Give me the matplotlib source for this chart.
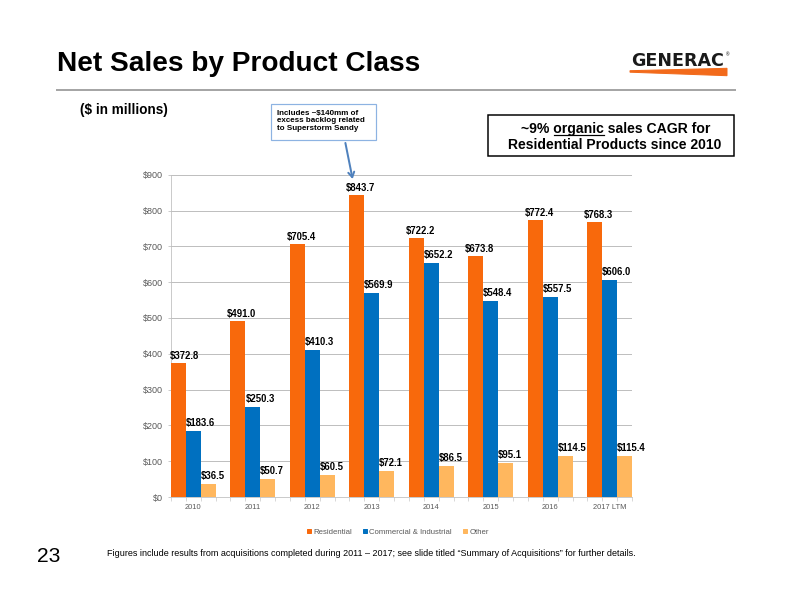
import matplotlib
matplotlib.use("Agg")
import matplotlib.pyplot as plt
from matplotlib import font_manager
from matplotlib.patches import Rectangle, Polygon, Patch, FancyArrowPatch
from matplotlib.lines import Line2D

plt.rcParams['font.family'] = ['Liberation Sans', 'DejaVu Sans']

# data ($ in millions)
years = ['2010', '2011', '2012', '2013', '2014', '2015', '2016', '2017 LTM']
residential = [372.8, 491.0, 705.4, 843.7, 722.2, 673.8, 772.4, 768.3]
commercial = [183.6, 250.3, 410.3, 569.9, 652.2, 548.4, 557.5, 606.0]
other = [36.5, 50.7, 60.5, 72.1, 86.5, 95.1, 114.5, 115.4]
y_ticks = [0, 100, 200, 300, 400, 500, 600, 700, 800, 900]

ORANGE = '#F8690C'
BLUE = '#0070C0'
LIGHT = '#FFB75E'
GRAY_TXT = '#595959'

W, H = 792, 612

# narrow font for the footnote if it is there
names = {f.name for f in font_manager.fontManager.ttflist}
NARROW = 'Liberation Sans Narrow' if 'Liberation Sans Narrow' in names else None


def fx(x):
    return x / W


def fy(y):
    return 1 - y / H


fig = plt.figure(figsize=(W / 72, H / 72), dpi=72)

# chart area
ax = fig.add_axes([fx(171), fy(497), 461 / W, 322.3 / H])
n = len(years)
res_x = [4 * i + 0.5 for i in range(n)]
com_x = [4 * i + 1.5 for i in range(n)]
oth_x = [4 * i + 2.5 for i in range(n)]

ax.bar(res_x, residential, width=1.0, color=ORANGE, zorder=3)
ax.bar(com_x, commercial, width=1.0, color=BLUE, zorder=3)
ax.bar(oth_x, other, width=1.0, color=LIGHT, zorder=3)

ax.set_xlim(0, 31)
ax.set_ylim(0, 900)
ax.set_yticks(y_ticks)
ax.set_yticklabels(['${}'.format(v) for v in y_ticks])
ax.set_xticks(com_x)
ax.set_xticklabels(years)
ax.set_xticks(range(0, 32), minor=True)
ax.tick_params(axis='x', which='major', length=0, pad=7, labelsize=7.5, labelcolor=GRAY_TXT)
ax.tick_params(axis='x', which='minor', length=4, color='#BFBFBF', direction='out')
ax.tick_params(axis='y', length=3, color='#BFBFBF', pad=5, labelsize=9, labelcolor=GRAY_TXT)
ax.grid(axis='y', color='#BFBFBF', linewidth=1, zorder=0)
for side in ['top', 'right']:
    ax.spines[side].set_visible(False)
for side in ['left', 'bottom']:
    ax.spines[side].set_color('#BFBFBF')

# data labels
lab_kw = dict(fontsize=9.5, fontweight='bold', color='black', textcoords='offset points',
              zorder=4, annotation_clip=False)
for i, v in enumerate(residential):
    if i == 0:
        ax.annotate('${:.1f}'.format(v), (0, v), xytext=(-1, 2), ha='left', va='bottom', **lab_kw)
    else:
        ax.annotate('${:.1f}'.format(v), (res_x[i], v), xytext=(4, 2), ha='center', va='bottom', **lab_kw)
for i, v in enumerate(commercial):
    ax.annotate('${:.1f}'.format(v), (com_x[i] - 0.5, v), xytext=(0, 3), ha='left', va='bottom', **lab_kw)
for i, v in enumerate(other):
    ax.annotate('${:.1f}'.format(v), (oth_x[i] - 0.5, v), xytext=(0, 3), ha='left', va='bottom', **lab_kw)

# legend
handles = [Patch(color=ORANGE, label='Residential'),
           Patch(color=BLUE, label='Commercial & Industrial'),
           Patch(color=LIGHT, label='Other')]
leg = fig.legend(handles=handles, loc='center', bbox_to_anchor=(fx(398), fy(532)), ncol=3,
                 frameon=False, fontsize=7.8, handlelength=0.5, handleheight=0.5,
                 handletextpad=0.3, columnspacing=1.4)
for t in leg.get_texts():
    t.set_color(GRAY_TXT)

# slide title and rule
fig.text(fx(57), fy(64), 'Net Sales by Product Class', fontsize=28, fontweight='bold',
         va='center', ha='left')
fig.add_artist(Line2D([fx(57), fx(735)], [fy(90), fy(90)], color='#A6A6A6', linewidth=2))

# logo
fig.text(fx(677.5), fy(61.5), 'GENERAC', fontsize=17.5, fontweight='bold', family='DejaVu Sans',
         ha='center', va='center', color='#1A1A1A')
fig.text(fx(726), fy(55), '®', fontsize=4.5, ha='left', va='center')
fig.add_artist(Polygon([(fx(630), fy(70.7)), (fx(727), fy(68.3)), (fx(727), fy(75.7)), (fx(630), fy(72.2))],
                       closed=True, color='#F26A1B', transform=fig.transFigure))

fig.text(fx(80), fy(110), '($ in millions)', fontsize=13.5, fontweight='bold', va='center')

# callout box
fig.add_artist(Rectangle((fx(271), fy(139.5)), 105 / W, 35 / H, transform=fig.transFigure,
                         facecolor='white', edgecolor='#8DB3E2', linewidth=1.2))
fig.text(fx(277), fy(121), 'Includes ~$140mm of\nexcess backlog related\nto Superstorm Sandy',
         fontsize=8, fontweight='bold', va='center', ha='left', linespacing=1.12)
fig.add_artist(FancyArrowPatch((fx(345), fy(141)), (fx(353), fy(181)),
                               transform=fig.transFigure, arrowstyle='->,head_length=5,head_width=3',
                               color='#4F81BD', linewidth=2))

# CAGR box
fig.add_artist(Rectangle((fx(488), fy(155.5)), 246 / W, 40.5 / H, transform=fig.transFigure,
                         facecolor='white', edgecolor='black', linewidth=1.5))
line1 = fig.text(fx(616), fy(129.5), '~9% organic sales CAGR for', fontsize=14, fontweight='bold',
                 ha='center', va='center')
fig.text(fx(615), fy(144.5), 'Residential Products since 2010', fontsize=14, fontweight='bold',
         ha='center', va='center')

# underline "organic"
renderer = fig.canvas.get_renderer()
bb_full = line1.get_window_extent(renderer)
tmp = fig.text(0, 0, '~9% ', fontsize=14, fontweight='bold')
w_pre = tmp.get_window_extent(renderer).width
tmp.set_text('organic')
w_org = tmp.get_window_extent(renderer).width
tmp.remove()
x0 = bb_full.x0 + w_pre
y_ul = bb_full.y0 + 2
fig.add_artist(Line2D([x0 / fig.bbox.width, (x0 + w_org) / fig.bbox.width],
                      [y_ul / fig.bbox.height, y_ul / fig.bbox.height], color='black', linewidth=1.2))

# footer
fig.text(fx(37), fy(556), '23', fontsize=21, va='center', ha='left')
note = ('Figures include results from acquisitions completed during 2011 \u2013 2017; '
        'see slide titled \u201cSummary of Acquisitions\u201d for further details.')
if NARROW:
    fig.text(fx(107), fy(553), note, fontsize=10.3, family=NARROW, va='center', ha='left')
else:
    fig.text(fx(107), fy(553), note, fontsize=9, va='center', ha='left')

fig.savefig('out.png', dpi=72)
